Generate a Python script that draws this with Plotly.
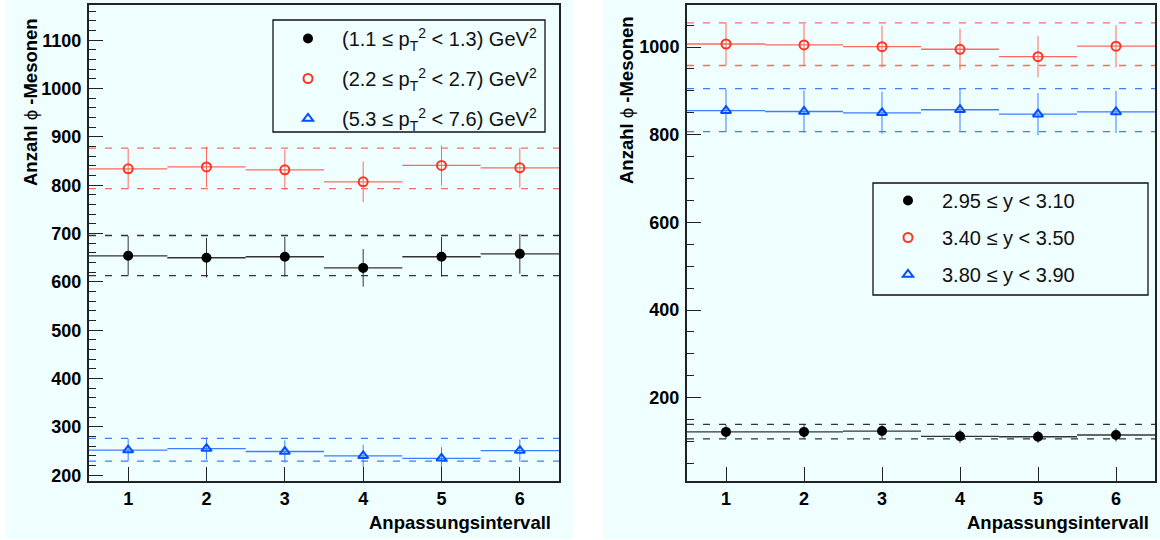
import plotly.graph_objects as go
from plotly.subplots import make_subplots

# ---------------- data ----------------
intervall = [1, 2, 3, 4, 5, 6]
bin_half_width = [0.5] * 6

# left panel: bins in pT^2
pt_labels = [
    "(1.1 ≤ p<sub>T</sub><sup>2</sup> &lt; 1.3) GeV<sup>2</sup>",
    "(2.2 ≤ p<sub>T</sub><sup>2</sup> &lt; 2.7) GeV<sup>2</sup>",
    "(5.3 ≤ p<sub>T</sub><sup>2</sup> &lt; 7.6) GeV<sup>2</sup>",
]
pt_low_n = [654, 650, 652, 629, 652, 658]
pt_low_err = [41, 41, 41, 39, 41, 41]
pt_mid_n = [834, 838, 832, 807, 841, 836]
pt_mid_err = [42, 42, 42, 42, 41, 41]
pt_high_n = [252, 255, 249, 240, 235, 251]
pt_high_err = [23.5, 23, 23, 23, 23, 23]
pt_low_band = [613, 696]
pt_mid_band = [793, 877]
pt_high_band = [229, 276]

# right panel: bins in rapidity y
y_labels = [
    "2.95 ≤ y &lt; 3.10",
    "3.40 ≤ y &lt; 3.50",
    "3.80 ≤ y &lt; 3.90",
]
y_low_n = [122, 122, 124, 112, 111, 115]
y_low_err = [16, 16, 16, 15, 14, 15]
y_mid_n = [1007, 1005, 1001, 995, 978, 1002]
y_mid_err = [48.5, 48, 48, 47, 47, 48]
y_high_n = [855, 853, 850, 857, 847, 852]
y_high_err = [48.5, 48, 48, 48, 48, 48]
y_low_band = [106, 139]
y_mid_band = [958, 1055]
y_high_band = [807, 905]

left_yrange = [188, 1173]
right_yrange = [10, 1096]

# ---------------- styling ----------------
W, H = 1160, 540
CYAN = "#effefe"
FONT = "Liberation Sans"
series_style = [
    dict(color="#000000", line="#333333", symbol="circle", size=8),
    dict(color="#ff3322", line="#ff6a60", symbol="circle-open", size=9),
    dict(color="#0050ff", line="#3d7dff", symbol="triangle-up-open", size=9),
]

fig = make_subplots(rows=1, cols=2)


def paper_rect(x0, x1, y0, y1, fill, line_w, layer):
    fig.add_shape(type="rect", xref="paper", yref="paper",
                  x0=x0 / W, x1=x1 / W, y0=1 - y1 / H, y1=1 - y0 / H,
                  fillcolor=fill, line=dict(width=line_w, color="#111111"),
                  layer=layer)


# canvas backgrounds (two ROOT pads) - drawn first, underneath everything
paper_rect(6, 573, 0, 539, CYAN, 0, "below")
paper_rect(603, 1160, 0, 539, CYAN, 0, "below")


def add_series(col, xs, ys, errs, name, st, legend):
    fig.add_trace(
        go.Scatter(
            x=xs, y=ys, name=name, mode="markers",
            marker=dict(color=st["color"], symbol=st["symbol"], size=st["size"],
                        line=dict(color=st["color"], width=2)),
            error_y=dict(type="data", array=errs, visible=True, color=st["line"],
                         thickness=1, width=0),
            error_x=dict(type="data", array=bin_half_width, visible=True,
                         color=st["line"], thickness=1.3, width=0),
            legend=legend, legendgroup=legend + name,
        ),
        row=1, col=col,
    )


def add_band(col, band, st):
    for v in band:
        fig.add_hline(y=v, line=dict(color=st["line"], width=1.3, dash="7px,9px"),
                      row=1, col=col, layer="below", exclude_empty_subplots=False)


left_series = [(pt_low_n, pt_low_err, pt_low_band),
               (pt_mid_n, pt_mid_err, pt_mid_band),
               (pt_high_n, pt_high_err, pt_high_band)]
right_series = [(y_low_n, y_low_err, y_low_band),
                (y_mid_n, y_mid_err, y_mid_band),
                (y_high_n, y_high_err, y_high_band)]

for (vals, errs, band), lab, st in zip(left_series, pt_labels, series_style):
    add_series(1, intervall, vals, errs, lab, st, "legend")
    add_band(1, band, st)
for (vals, errs, band), lab, st in zip(right_series, y_labels, series_style):
    add_series(2, intervall, vals, errs, lab, st, "legend2")
    add_band(2, band, st)

ydom = [1 - 481 / H, 1 - 5 / H]
tickfont = dict(family=FONT, size=18, color="black", weight="bold")
common_x = dict(range=[0.5, 6.5], tickmode="array", tickvals=intervall,
                ticktext=[str(i) for i in intervall],
                ticks="inside", ticklen=14, tickwidth=1.2, tickcolor="#222",
                showline=True, linewidth=2, linecolor="#222", mirror=True,
                showgrid=False, zeroline=False, tickfont=tickfont, automargin=False)
common_y = dict(ticks="inside", ticklen=14, tickwidth=1.2, tickcolor="#222",
                showline=True, linewidth=2, linecolor="#222", mirror=True,
                showgrid=False, zeroline=False, tickfont=tickfont, automargin=False,
                domain=ydom, ticklabelstandoff=2)

fig.update_xaxes(domain=[89 / W, 559 / W], **common_x, row=1, col=1)
fig.update_xaxes(domain=[687 / W, 1155 / W], **common_x, row=1, col=2)
fig.update_yaxes(range=left_yrange, tick0=0, dtick=100,
                 minor=dict(dtick=20, ticks="inside", ticklen=7, tickcolor="#222",
                            tickwidth=1, showgrid=False),
                 **common_y, row=1, col=1)
fig.update_yaxes(range=right_yrange, tick0=0, dtick=200,
                 minor=dict(dtick=50, ticks="inside", ticklen=7, tickcolor="#222",
                            tickwidth=1, showgrid=False),
                 **common_y, row=1, col=2)

legend_common = dict(bgcolor="rgba(0,0,0,0)", borderwidth=0,
                     font=dict(family=FONT, size=20, color="#111"),
                     xanchor="left", yanchor="top", itemwidth=58,
                     traceorder="grouped")

fig.update_layout(
    width=W, height=H,
    margin=dict(l=0, r=0, t=0, b=0),
    paper_bgcolor="white", plot_bgcolor=CYAN,
    showlegend=True,
    legend=dict(x=274 / W, y=1 - 19 / H, tracegroupgap=11, **legend_common),
    legend2=dict(x=874 / W, y=1 - 181 / H, tracegroupgap=8, **legend_common),
)

# legend frames
paper_rect(273, 545, 20, 132, "rgba(0,0,0,0)", 1.3, "above")
paper_rect(873, 1148, 183, 295, "rgba(0,0,0,0)", 1.3, "above")

title_font = dict(family=FONT, size=18.5, color="black")
ytitle = "<b>Anzahl</b> ϕ <b>-Mesonen</b>"
xtitle = "<b>Anpassungsintervall</b>"
annots = [
    dict(text=ytitle, x=30 / W, y=1 - 16 / H, textangle=-90),
    dict(text=ytitle, x=627 / W, y=1 - 14 / H, textangle=-90),
]
for a in annots:
    fig.add_annotation(xref="paper", yref="paper", xanchor="center", yanchor="top",
                       showarrow=False, font=title_font, **a)
for xe in [553 / W, 1151 / W]:
    fig.add_annotation(text=xtitle, xref="paper", yref="paper", x=xe, y=1 - 522 / H,
                       xanchor="right", yanchor="middle", showarrow=False, font=title_font)

fig.write_html(
    "out.html",
    config={"displayModeBar": False},
    post_script="document.body.style.margin='0px';document.body.style.padding='0px';",
)
